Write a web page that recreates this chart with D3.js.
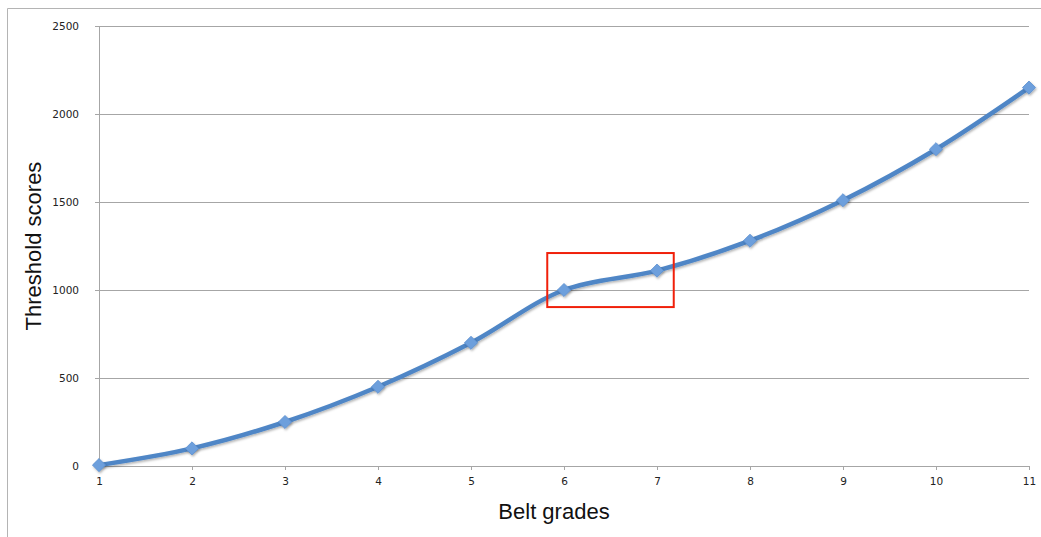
<!DOCTYPE html>
<html>
<head>
<meta charset="utf-8">
<script src="https://cdn.jsdelivr.net/npm/d3@7"></script>
<style>
  html, body { margin: 0; padding: 0; background: #fff; overflow: hidden; }
  svg { display: block; }
</style>
</head>
<body>
<script>
// belt grades and threshold scores
const grades = [1, 2, 3, 4, 5, 6, 7, 8, 9, 10, 11];
const scores = [5, 100, 250, 450, 700, 1000, 1110, 1280, 1510, 1800, 2150];
const yTicks = [0, 500, 1000, 1500, 2000, 2500];
// highlighted box around grades 6-7 (data units)
const boxX = [5.82, 7.18];
const boxY = [903, 1210];

const outerWidth = 1041;
const outerHeight = 537;
const margin = { left: 99, top: 26, right: 12, bottom: 71 };
const innerWidth = outerWidth - margin.left - margin.right;
const innerHeight = outerHeight - margin.top - margin.bottom;

const svg = d3.select('body')
  .append('svg')
    .attr('width', outerWidth)
    .attr('height', outerHeight);

// outer frame
svg.append('path')
  .attr('d', `M7.5,${outerHeight} V8.5 H${outerWidth}`)
  .attr('fill', 'none')
  .attr('stroke', '#b4b4b4')
  .attr('stroke-width', 1);

const g = svg.append('g')
  .attr('transform', `translate(${margin.left},${margin.top})`);

const xScale = d3.scaleLinear()
  .domain([1, 11])
  .range([0, innerWidth]);

const yScale = d3.scaleLinear()
  .domain([0, 2500])
  .range([innerHeight, 0]);

// gridlines
g.append('g')
  .selectAll('line')
  .data(yTicks.slice(1))
  .join('line')
    .attr('x1', 0)
    .attr('x2', innerWidth)
    .attr('y1', d => Math.round(yScale(d)) + 0.5)
    .attr('y2', d => Math.round(yScale(d)) + 0.5)
    .attr('stroke', '#a6a6a6')
    .attr('stroke-width', 1);

const yAxis = d3.axisLeft(yScale)
  .tickValues(yTicks)
  .tickFormat(d3.format('d'))
  .tickSize(4)
  .tickSizeOuter(0)
  .tickPadding(16);

const yAxisG = g.append('g').call(yAxis)
  .attr('font-family', '"DejaVu Sans", sans-serif')
  .attr('font-size', 10.5);
yAxisG.selectAll('line, path').attr('stroke', '#a6a6a6');
yAxisG.selectAll('text').attr('fill', '#222');

const xAxis = d3.axisBottom(xScale)
  .tickValues(grades)
  .tickFormat(d3.format('d'))
  .tickSize(4)
  .tickSizeOuter(0)
  .tickPadding(8);

const xAxisG = g.append('g')
  .attr('transform', `translate(0,${innerHeight})`)
  .call(xAxis)
  .attr('font-family', '"DejaVu Sans", sans-serif')
  .attr('font-size', 10.5);
xAxisG.selectAll('line, path').attr('stroke', '#a6a6a6');
xAxisG.selectAll('text').attr('fill', '#222');

// axis titles
svg.append('text')
  .attr('x', 554)
  .attr('y', 519)
  .attr('text-anchor', 'middle')
  .attr('font-family', '"Liberation Sans", Arial, sans-serif')
  .attr('font-size', 22)
  .attr('fill', '#111')
  .text('Belt grades');

svg.append('text')
  .attr('transform', 'translate(41,246) rotate(-90)')
  .attr('text-anchor', 'middle')
  .attr('font-family', '"Liberation Sans", Arial, sans-serif')
  .attr('font-size', 22)
  .attr('fill', '#111')
  .text('Threshold scores');

const data = grades.map((d, i) => ({ grade: d, score: scores[i] }));

const defs = svg.append('defs');
const shadow = defs.append('filter').attr('id', 'shadow')
  .attr('x', '-50%').attr('y', '-50%').attr('width', '200%').attr('height', '200%');
shadow.append('feDropShadow')
  .attr('dx', 1).attr('dy', 1.5).attr('stdDeviation', 1.2)
  .attr('flood-color', '#000').attr('flood-opacity', 0.3);

const line = d3.line()
  .x(d => xScale(d.grade))
  .y(d => yScale(d.score))
  .curve(d3.curveCatmullRom.alpha(0.5));

g.append('path')
  .datum(data)
  .attr('d', line)
  .attr('fill', 'none')
  .attr('stroke', '#4f86c6')
  .attr('stroke-width', 4.5)
  .attr('stroke-linejoin', 'round')
  .attr('filter', 'url(#shadow)');

g.append('g')
  .selectAll('path')
  .data(data)
  .join('path')
    .attr('transform', d => `translate(${xScale(d.grade)},${yScale(d.score)})`)
    .attr('d', d3.symbol().type(d3.symbolDiamond2).size(110))
    .attr('fill', '#6d9fdc')
    .attr('stroke', '#5b8fd0')
    .attr('stroke-width', 0.8)
    .attr('filter', 'url(#shadow)');

// red highlight box
g.append('rect')
  .attr('x', xScale(boxX[0]))
  .attr('y', yScale(boxY[1]))
  .attr('width', xScale(boxX[1]) - xScale(boxX[0]))
  .attr('height', yScale(boxY[0]) - yScale(boxY[1]))
  .attr('fill', 'none')
  .attr('stroke', '#f0200a')
  .attr('stroke-width', 2);
</script>
</body>
</html>
